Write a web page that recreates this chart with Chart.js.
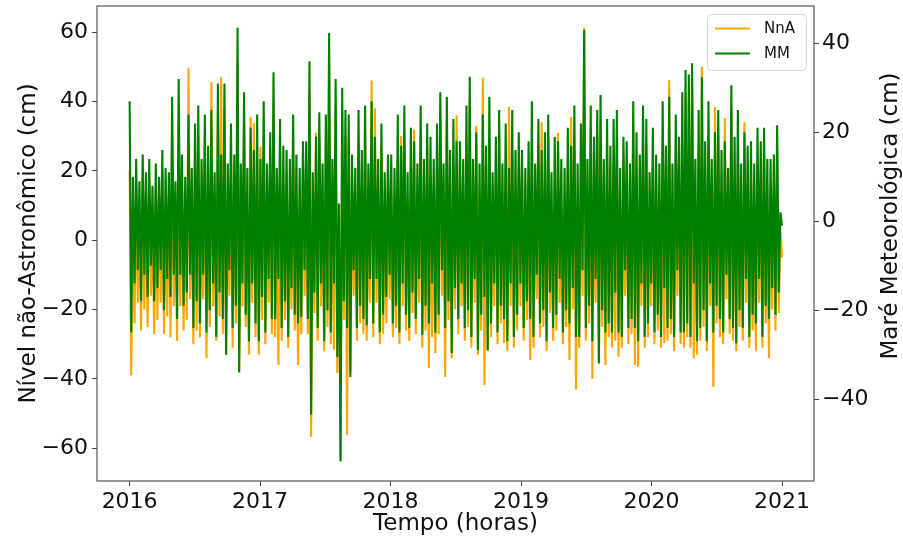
<!DOCTYPE html>
<html>
<head>
<meta charset="utf-8">
<script src="https://cdn.jsdelivr.net/npm/chart.js@4.4.1/dist/chart.umd.min.js"></script>
<style>
  html, body { margin: 0; padding: 0; background: #ffffff; }
  #wrap { width: 903px; height: 538px; }
</style>
</head>
<body>
<div id="wrap"><canvas id="c" width="903" height="538"></canvas></div>
<script>
// Axis tick labels
const yearTicks = [2016, 2017, 2018, 2019, 2020, 2021];
const nnaTicks = [-60, -40, -20, 0, 20, 40, 60];
const mmTicks = [-40, -20, 0, 20, 40];

// Record span (decimal years)
const seriesStart = 2016.0;
const seriesEnd = 2021.0;

// Maré Meteorológica (cm): upper and lower excursion in each time step
const mmHigh = [
  27, 10, 14, 9, 15, 11, 14, 8, 13, 10, 16, 12, 11, 28, 9, 32, 15, 10, 24, 12,
  22, 26, 14, 24, 17, 25, 11, 31, 15, 31, 13, 22, 15, 43.5, 13, 29, 12, 21, 16, 24,
  14, 27, 13, 20, 33.5, 12, 23, 17, 16, 14, 24, 15, 12, 18, 18, 36, 11, 19, 24.5, 13,
  24, 42.3, 14, 32, 4, 30, 25, 24, 15, 12, 25, 16, 26, 13, 27, 19, 14, 22, 11, 15,
  15, 12, 24, 17, 26, 11, 21, 18, 13, 26, 14, 22, 19, 14, 22, 29, 13, 28, 16, 23,
  18, 18, 14, 26, 32.5, 14, 20, 13, 24, 17, 28, 11, 19, 25, 13, 22, 12, 25, 16, 20,
  16, 12, 18, 27, 13, 23, 16, 20, 24, 11, 19, 18, 14, 12, 21, 17, 26, 13, 22, 43,
  14, 26, 19, 25, 28.4, 14, 23, 17, 23, 25, 12, 19, 18, 13, 27, 20, 15, 26, 23, 11,
  21, 15, 13, 27, 17, 28, 13, 24, 19, 29, 34, 33, 35.5, 14, 25, 32.4, 18, 27, 14, 20,
  25, 16, 18, 12, 30.6, 19, 25, 13, 20, 17, 18, 13, 21, 18, 21, 14, 14, 15, 21.6, 2
];
const mmLow = [
  -25, -14, -11, -18, -12, -17, -10, -18, -15, -11, -20, -13, -17, -12, -22, -12, -19, -16, -12, -24,
  -18, -23, -12, -25, -20, -14, -26, -16, -22, -30, -11, -24, -19, -34, -14, -21, -27, -14, -23, -27,
  -17, -25, -13, -22, -22, -13, -24, -18, -26, -15, -21, -23, -21.5, -11, -22, -43.5, -16, -24, -14, -27,
  -20, -25, -14, -30.5, -54, -18, -24, -35, -11, -24, -19, -22, -23.4, -13, -23, -13, -25, -21, -17, -12,
  -23, -19, -25, -14, -21, -24, -16, -22, -13, -25.5, -19, -23, -14, -25, -21, -11, -24, -18, -29.6, -15,
  -22, -14, -24, -20, -26, -13, -29, -21, -17, -29, -23, -14, -25, -19, -22, -27, -14, -26, -21, -14,
  -24, -18, -22, -26, -12, -23, -20, -27, -16, -24, -21, -13, -25, -20, -23, -15, -26, -26, -11, -24,
  -19, -27, -13, -32, -20, -25, -23, -25, -16, -25, -26, -11, -24, -22, -24, -27, -14, -26, -23, -14,
  -25, -21, -26, -15, -24, -22, -26, -11, -25, -25, -23, -26, -14, -27, -24, -20, -27, -14, -25, -19,
  -22, -25, -12, -22, -24, -27.4, -20, -24, -13, -26, -21, -23, -13, -26, -19, -22, -15, -21, -16, -1
];

// Nível não-Astronômico (cm): upper and lower excursion in each time step
const nnaHigh = [
  20, 9, 16, 6, 19, 12, 18, 5, 14, 10, 20, 8, 13, 30, 10, 34, 17, 6, 49.6, 12,
  23, 30, 8, 28, 15, 45.6, 9, 36, 47, 38, 6, 21, 19, 52, 11, 34, 5, 35.5, 33.8, 23,
  27, 26, 6, 24, 40, 10, 22, 15, 20, 7, 29, 13, 5, 22, 16, 43, 9, 31, 30, 11,
  29, 52, 8, 39, 4, 37, 30, 29, 19, 9, 24, 14, 31, 6, 46, 38, 11, 27, 8, 19,
  13, 5, 23, 30, 31, 9, 20, 31.8, 6, 25, 12, 27, 17, 7, 21, 35, 10, 34, 14, 22,
  36, 22, 7, 25, 40, 12, 33, 6, 46.8, 15, 28, 8, 17, 31, 10, 21, 38.4, 24, 14, 19,
  20, 9, 16, 27, 6, 22, 34, 18, 29, 8, 17, 31, 11, 5, 20, 35.5, 26, 10, 21, 61.2,
  11, 32, 17, 31, 35, 7, 28, 15, 22, 25, 9, 23, 16, 6, 33, 19, 12, 26, 28, 8,
  20, 19, 10, 27, 15, 46.2, 6, 23, 17, 29, 42, 40, 44, 11, 25, 50, 16, 27, 7, 38.4,
  31, 14, 35.2, 9, 38, 17, 25, 6, 34, 15, 22, 10, 20, 16, 26, 7, 17, 12, 27, 3
];
const nnaLow = [
  -39, -24, -18, -26, -20, -25, -16, -27, -23, -18, -27, -22, -28, -19, -29, -19, -26, -23, -17, -30,
  -26, -28, -17, -34, -25, -19, -29, -22, -27, -33, -16, -31, -24, -37, -19, -25, -33, -18, -28, -33,
  -23, -30, -18, -27, -28, -36, -29, -23, -31, -20, -26, -36, -27, -16, -27, -56.7, -21, -29, -19, -32,
  -25, -30, -31.6, -38.3, -63, -23, -56.2, -38, -16, -29, -24, -27, -29, -18, -28, -18, -30, -27, -24, -17,
  -28, -25.3, -30, -19, -26, -29, -21, -27, -18, -31, -26, -36.8, -28, -32.5, -27, -16, -39.4, -23, -34, -20,
  -27, -19, -29, -25, -31, -18, -33, -26, -41.7, -32, -28, -19, -30, -24, -29.6, -32, -19, -31, -26, -19,
  -29, -23, -34.5, -31, -17, -28, -25, -32, -21, -29, -26, -18, -30, -25, -34.5, -20, -43, -31, -16, -29,
  -24, -40, -18, -35, -25, -36, -28, -31, -29, -33.6, -31, -16, -30, -27, -36, -36.5, -19, -31, -28, -19,
  -30, -26, -31, -29.6, -29, -27, -32, -16, -30, -31, -28, -31, -34, -33, -29, -25, -32, -19, -42.3, -24,
  -28, -30, -17, -27, -29, -32, -25, -29, -18, -31, -26, -32, -18, -31, -24, -34, -20, -26, -21, -5
];

// Interleave each step's upper and lower excursion along the time axis
function buildSeries(high, low) {
  const n = high.length * 2;
  const pts = [];
  for (let i = 0; i < high.length; i++) {
    pts.push({ x: seriesStart + (seriesEnd - seriesStart) * (2 * i) / (n - 1), y: high[i] });
    pts.push({ x: seriesStart + (seriesEnd - seriesStart) * (2 * i + 1) / (n - 1), y: low[i] });
  }
  return pts;
}

const FONT = '"DejaVu Sans", sans-serif';
const ORANGE = '#ffa500';
const GREEN = '#008000';

const minusLabel = (v) => (v < 0 ? '\u2212' + Math.abs(v) : String(v));

// Vertical axes: fixed width, no extra room reserved for the end labels
const fixVertical = (w) => (s) => { s.width = w; s.paddingTop = 0; s.paddingBottom = 0; };

// Frame, axis titles and legend box
const decorations = {
  id: 'decorations',
  afterDraw(chart) {
    const { ctx, chartArea: a } = chart;
    ctx.save();
    ctx.strokeStyle = '#555555';
    ctx.lineWidth = 1.2;
    ctx.strokeRect(a.left, a.top, a.right - a.left, a.bottom - a.top);

    ctx.fillStyle = '#111111';
    ctx.font = '23px ' + FONT;
    ctx.textAlign = 'center';
    ctx.textBaseline = 'middle';
    ctx.fillText('Tempo (horas)', (a.left + a.right) / 2, 524);

    ctx.save();
    ctx.translate(29, (a.top + a.bottom) / 2);
    ctx.rotate(-Math.PI / 2);
    ctx.fillText('Nível não-Astronômico (cm)', 0, 0);
    ctx.restore();

    ctx.save();
    ctx.translate(891, 216);
    ctx.rotate(-Math.PI / 2);
    ctx.fillText('Maré Meteorológica (cm)', 0, 0);
    ctx.restore();

    const bx = 707, by = 14, bw = 99, bh = 56;
    ctx.fillStyle = 'rgba(255,255,255,0.85)';
    ctx.strokeStyle = '#d6d6d6';
    ctx.lineWidth = 1;
    ctx.beginPath();
    ctx.roundRect(bx + 0.5, by + 0.5, bw, bh, 4);
    ctx.fill();
    ctx.stroke();
    ctx.font = '15px ' + FONT;
    ctx.textAlign = 'left';
    chart.data.datasets.forEach((ds, k) => {
      const yy = 28.5 + k * 25;
      ctx.strokeStyle = ds.borderColor;
      ctx.lineWidth = 2;
      ctx.beginPath();
      ctx.moveTo(715, yy);
      ctx.lineTo(750, yy);
      ctx.stroke();
      ctx.fillStyle = '#111111';
      ctx.fillText(ds.label, 764, yy + 1);
    });
    ctx.restore();
  }
};

const tickGrid = { drawOnChartArea: false, drawTicks: true, tickLength: 5, tickColor: '#444444', tickWidth: 1 };
const tickFont = { family: FONT, size: 22 };

new Chart(document.getElementById('c'), {
  type: 'line',
  data: {
    datasets: [
      {
        label: 'NnA',
        data: buildSeries(nnaHigh, nnaLow),
        yAxisID: 'y',
        borderColor: ORANGE,
        borderWidth: 2.1,
        pointRadius: 0,
        tension: 0,
        order: 1
      },
      {
        label: 'MM',
        data: buildSeries(mmHigh, mmLow),
        yAxisID: 'y1',
        borderColor: GREEN,
        borderWidth: 2.1,
        pointRadius: 0,
        tension: 0,
        order: 0
      }
    ]
  },
  options: {
    responsive: false,
    animation: false,
    devicePixelRatio: 1,
    layout: { padding: { top: 6, left: 0, right: 0, bottom: 0 } },
    plugins: {
      legend: { display: false },
      tooltip: { enabled: false },
      title: { display: false }
    },
    scales: {
      x: {
        type: 'linear',
        min: 2015.75,
        max: 2021.245,
        afterBuildTicks: (s) => { s.ticks = yearTicks.map((v) => ({ value: v })); },
        afterFit: (s) => { s.height = 57; },
        grid: tickGrid,
        border: { display: false },
        ticks: { autoSkip: false, maxRotation: 0, padding: 3, color: '#111111', font: tickFont, callback: (v) => String(v) }
      },
      y: {
        type: 'linear',
        position: 'left',
        min: -69.4,
        max: 67.5,
        afterBuildTicks: (s) => { s.ticks = nnaTicks.map((v) => ({ value: v })); },
        afterFit: fixVertical(97),
        grid: tickGrid,
        border: { display: false },
        ticks: { autoSkip: false, padding: 4, color: '#111111', font: tickFont, callback: minusLabel }
      },
      y1: {
        type: 'linear',
        position: 'right',
        min: -58.4,
        max: 48.4,
        afterBuildTicks: (s) => { s.ticks = mmTicks.map((v) => ({ value: v })); },
        afterFit: fixVertical(89),
        grid: tickGrid,
        border: { display: false },
        ticks: { autoSkip: false, padding: 3, color: '#111111', font: tickFont, callback: minusLabel }
      }
    }
  },
  plugins: [decorations]
});
</script>
</body>
</html>
